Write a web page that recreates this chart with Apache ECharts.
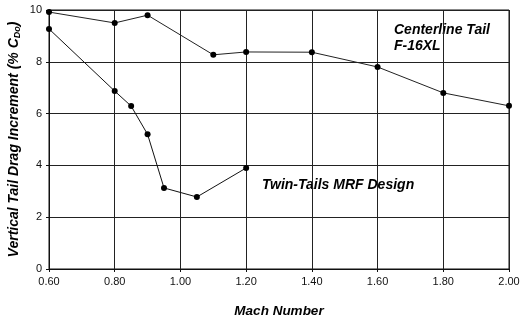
<!DOCTYPE html>
<html>
<head>
<meta charset="utf-8" />
<title>Vertical Tail Drag Increment</title>
<style>
	html, body { margin: 0; padding: 0; background: #fff; }
</style>
</head>
<body>
<div id="main" style="width: 520px;height: 325px"></div>
<script src="https://cdn.jsdelivr.net/npm/echarts@6/dist/echarts.min.js"></script>
<script type="text/javascript">
	// values
	var centerlineMach = [0.60, 0.80, 0.90, 1.10, 1.20, 1.40, 1.60, 1.80, 2.00];
	var centerlineDrag = [9.92, 9.50, 9.80, 8.27, 8.38, 8.37, 7.80, 6.80, 6.30];
	var twinMach = [0.60, 0.80, 0.85, 0.90, 0.95, 1.05, 1.20];
	var twinDrag = [9.27, 6.87, 6.29, 5.20, 3.13, 2.78, 3.90];

	function pairs(xs, ys) {
		var out = [];
		for (var i = 0; i < xs.length; i++) out.push([xs[i], ys[i]]);
		return out;
	}

	var font = 'Liberation Sans, Arial, sans-serif';
	var myChart = echarts.init(document.getElementById('main'));

	var option = {
		animation: false,
		backgroundColor: '#fff',
		grid: { left: 49, right: 11, top: 10, bottom: 56, show: true, borderColor: '#111', borderWidth: 1, outerBoundsMode: 'none', containLabel: false },
		xAxis: {
			type: 'value',
			min: 0.6,
			max: 2.0,
			interval: 0.2,
			name: 'Mach Number',
			nameLocation: 'middle',
			nameGap: 35,
			nameTextStyle: { fontFamily: font, fontSize: 13.5, fontWeight: 'bold', fontStyle: 'italic', color: '#000' },
			axisLine: { lineStyle: { color: '#111' } },
			axisTick: { show: true, length: 3, lineStyle: { color: '#111' } },
			axisLabel: { fontFamily: font, fontSize: 11, color: '#111', margin: 7, formatter: function (v) { return v.toFixed(2); } },
			splitLine: { lineStyle: { color: '#222', width: 1 } }
		},
		yAxis: {
			type: 'value',
			min: 0,
			max: 10,
			interval: 2,
			name: 'Vertical Tail Drag Increment (% C{sub|Do})',
			nameLocation: 'middle',
			nameGap: 27,
			nameMoveOverlap: false,
			nameTextStyle: {
				fontFamily: font, fontSize: 14, fontWeight: 'bold', fontStyle: 'italic', color: '#000',
				rich: { sub: { fontFamily: font, fontSize: 9, fontWeight: 'bold', fontStyle: 'italic', color: '#000', verticalAlign: 'bottom', padding: [6, 0, 0, 0] } }
			},
			axisLine: { show: true, lineStyle: { color: '#111' } },
			axisTick: { show: true, length: 3, lineStyle: { color: '#111' } },
			axisLabel: { fontFamily: font, fontSize: 11, color: '#111', margin: 7 },
			splitLine: { lineStyle: { color: '#222', width: 1 } }
		},
		series: [
			{
				name: 'Centerline Tail F-16XL',
				type: 'line',
				data: pairs(centerlineMach, centerlineDrag),
				symbol: 'circle',
				symbolSize: 6,
				itemStyle: { color: '#000' },
				lineStyle: { color: '#222', width: 1 }
			},
			{
				name: 'Twin-Tails MRF Design',
				type: 'line',
				data: pairs(twinMach, twinDrag),
				symbol: 'circle',
				symbolSize: 6,
				itemStyle: { color: '#000' },
				lineStyle: { color: '#111', width: 1 }
			}
		],
		graphic: [
			{ type: 'text', left: 394, top: 22, style: { text: 'Centerline Tail\nF-16XL', font: 'italic bold 14px ' + font, fill: '#000', lineHeight: 16 } },
			{ type: 'text', left: 262, top: 178, style: { text: 'Twin-Tails MRF Design', font: 'italic bold 14px ' + font, fill: '#000' } }
		]
	};
	myChart.setOption(option);
</script>
</body>
</html>
